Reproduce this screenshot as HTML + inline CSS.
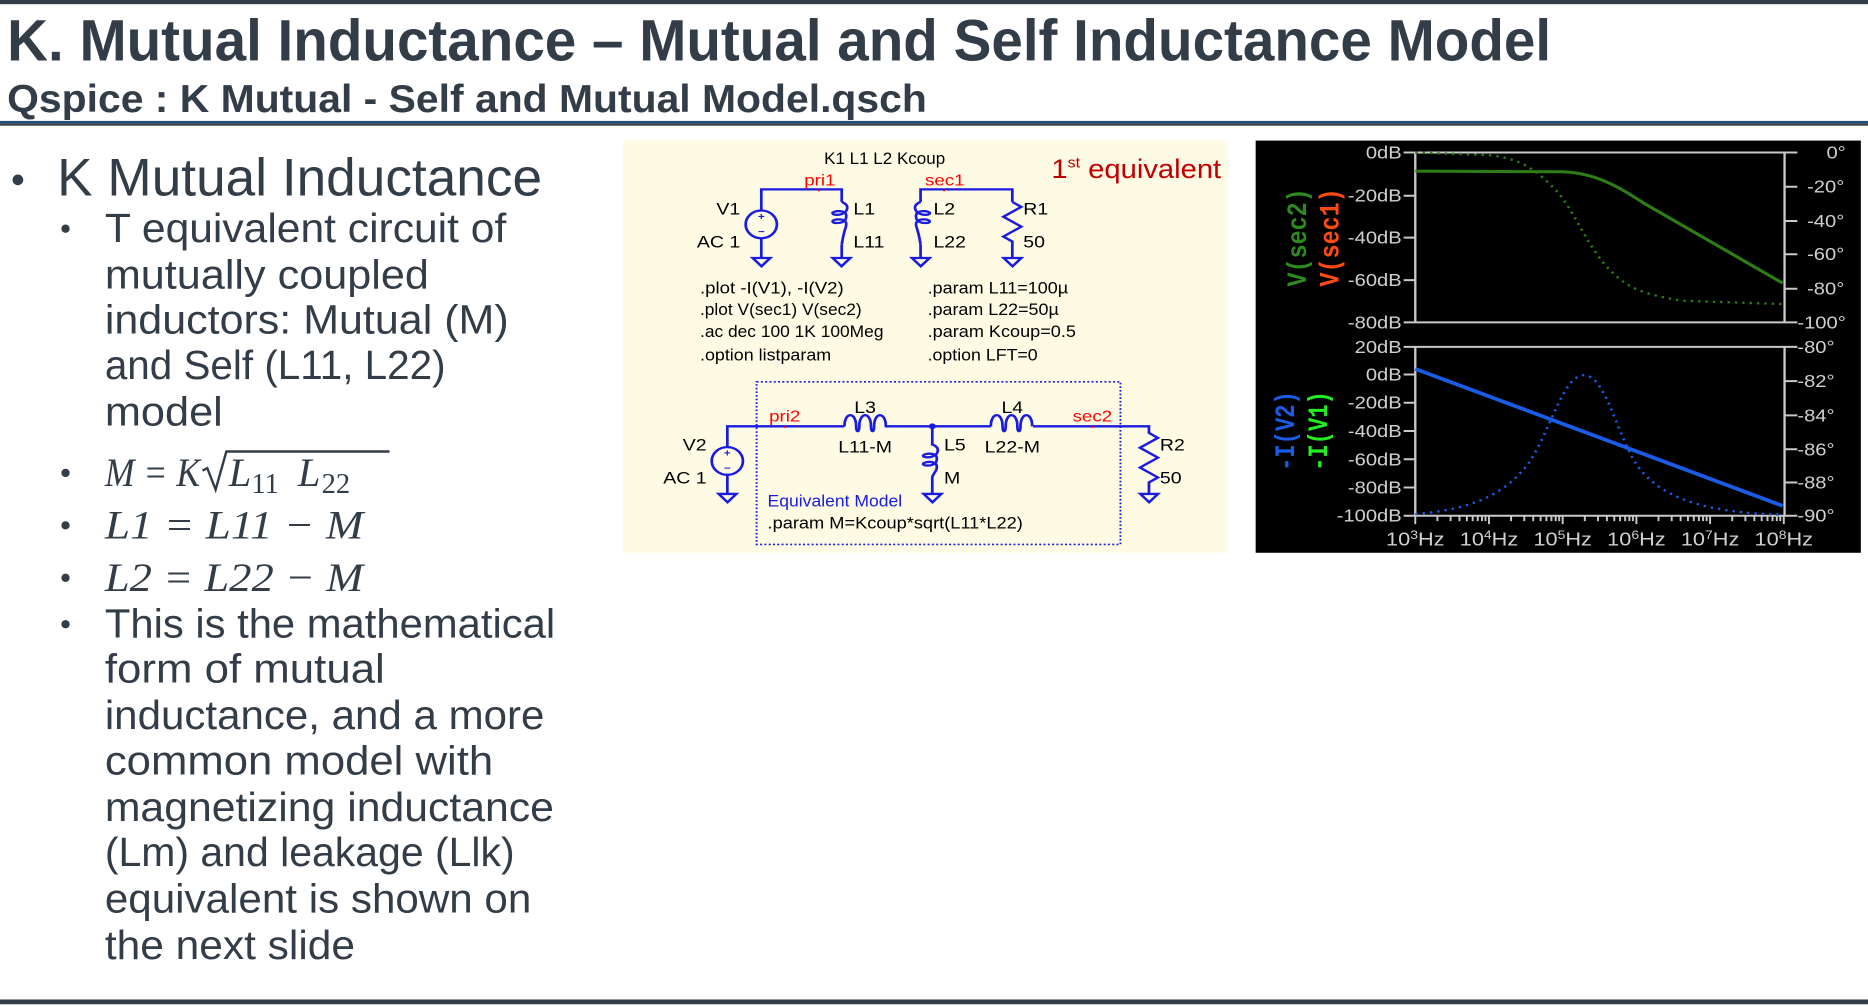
<!DOCTYPE html>
<html><head><meta charset="utf-8"><style>
html,body{margin:0;padding:0;background:#fff;width:1868px;height:1007px;overflow:hidden}
svg{display:block}
</style></head><body>
<svg width="1868" height="1007" viewBox="0 0 1568 845.3" preserveAspectRatio="none" xmlns="http://www.w3.org/2000/svg" font-family="Liberation Sans, sans-serif">
<rect x="0" y="0" width="1568" height="845.3" fill="#fff"/>
<rect x="0" y="0" width="1568" height="3.5" fill="#333d48"/>
<text x="6" y="51" font-size="49" font-weight="bold" fill="#333d48" textLength="1296" lengthAdjust="spacingAndGlyphs">K. Mutual Inductance – Mutual and Self Inductance Model</text>
<text x="6" y="94" font-size="33" font-weight="bold" fill="#333d48" textLength="772" lengthAdjust="spacingAndGlyphs">Qspice : K Mutual - Self and Mutual Model.qsch</text>
<rect x="0" y="101.5" width="1568" height="2" fill="#1f4e79"/>
<rect x="0" y="103.5" width="1568" height="2" fill="#333d48"/>
<rect x="0" y="839" width="1568" height="4" fill="#333d48"/>

<g fill="#333d48">
<circle cx="15" cy="151" r="4.5"/>
<text x="48" y="164" font-size="44" textLength="407" lengthAdjust="spacingAndGlyphs">K Mutual Inductance</text>
<g font-size="34">
<circle cx="55" cy="192" r="3.5"/>
<text x="88" y="203" textLength="337" lengthAdjust="spacingAndGlyphs">T equivalent circuit of</text>
<text x="88" y="242" textLength="272" lengthAdjust="spacingAndGlyphs">mutually coupled</text>
<text x="88" y="280" textLength="339" lengthAdjust="spacingAndGlyphs">inductors: Mutual (M)</text>
<text x="88" y="318" textLength="286" lengthAdjust="spacingAndGlyphs">and Self (L11, L22)</text>
<text x="88" y="357" textLength="99" lengthAdjust="spacingAndGlyphs">model</text>
<circle cx="55" cy="524" r="3.5"/>
<text x="88" y="535" textLength="378" lengthAdjust="spacingAndGlyphs">This is the mathematical</text>
<text x="88" y="573" textLength="235" lengthAdjust="spacingAndGlyphs">form of mutual</text>
<text x="88" y="612" textLength="369" lengthAdjust="spacingAndGlyphs">inductance, and a more</text>
<text x="88" y="650" textLength="326" lengthAdjust="spacingAndGlyphs">common model with</text>
<text x="88" y="689" textLength="377" lengthAdjust="spacingAndGlyphs">magnetizing inductance</text>
<text x="88" y="727" textLength="344" lengthAdjust="spacingAndGlyphs">(Lm) and leakage (Llk)</text>
<text x="88" y="766" textLength="358" lengthAdjust="spacingAndGlyphs">equivalent is shown on</text>
<text x="88" y="805" textLength="210" lengthAdjust="spacingAndGlyphs">the next slide</text>
</g>
<circle cx="55" cy="397" r="3.5"/>
<circle cx="55" cy="441" r="3.5"/>
<circle cx="55" cy="485" r="3.5"/>
<g font-family="Liberation Serif, serif" font-size="34" font-style="italic">
<text x="88" y="408" textLength="80" lengthAdjust="spacingAndGlyphs">M = K</text>
<path d="M170,395 l4,-2 l7,18 l9,-32 h137" fill="none" stroke="#333d48" stroke-width="2"/>
<text x="192" y="408">L</text><text x="211" y="414" font-size="24" font-style="normal">11</text>
<text x="250" y="408">L</text><text x="270" y="414" font-size="24" font-style="normal">22</text>
<text x="88" y="452" textLength="217" lengthAdjust="spacingAndGlyphs">L1 = L11 − M</text>
<text x="88" y="496" textLength="217" lengthAdjust="spacingAndGlyphs">L2 = L22 − M</text>
</g>
</g>

<!-- schematic -->
<rect x="523" y="118" width="507" height="346" fill="#fdfbe3"/>
<g transform="translate(520.4,114.1) scale(0.3277,0.277)">
<g fill="none" stroke="#1a1ae0" stroke-width="7">
<path d="M362,228 V162 H568 V200 M568,330 V370"/>
<ellipse cx="362" cy="268" rx="40" ry="42"/>
<path d="M362,310 V370"/>
<path d="M568,200 q22,10 10,30 q-12,12 -30,8 q-10,-6 8,-10 q30,-2 22,25 q-8,14 -30,10 q-10,-6 8,-10 q30,-2 22,25 q-6,20 -10,52"/>
<path d="M770,200 q-22,10 -10,30 q12,12 30,8 q10,-6 -8,-10 q-30,-2 -22,25 q8,14 30,10 q10,-6 -8,-10 q-30,-2 -22,25 q6,20 10,52"/>
<path d="M770,200 V162 H1005 V200 M770,330 V370"/>
<path d="M1005,200 L1028,215 L982,245 L1028,275 L982,305 L1005,320 V370"/>
<path d="M340,370 h45 l-22.5,25 z M545,370 h45 l-22.5,25 z M748,370 h45 l-22.5,25 z M983,370 h45 l-22.5,25 z"/>
<path d="M275,945 V880 H575 M678,880 H950 M1058,880 H1355 V900 L1378,915 L1332,945 L1378,975 L1332,1005 L1378,1035 L1355,1050 V1085"/>
<ellipse cx="275" cy="985" rx="40" ry="42"/>
<path d="M275,1027 V1085"/>
<path d="M575,880 c0,-45 30,-45 30,0 c0,20 8,20 8,0 c0,-45 30,-45 30,0 c0,20 8,20 8,0 c0,-45 30,-45 30,0"/>
<path d="M950,880 c0,-45 30,-45 30,0 c0,20 8,20 8,0 c0,-45 30,-45 30,0 c0,20 8,20 8,0 c0,-45 30,-45 30,0"/>
<path d="M800,880 V935 q22,10 10,30 q-12,12 -30,8 q-10,-6 8,-10 q30,-2 22,25 q-8,14 -30,10 q-10,-6 8,-10 q30,-2 22,25 q-6,10 -10,20 V1085"/>
<path d="M253,1085 h45 l-22.5,25 z M778,1085 h45 l-22.5,25 z M1333,1085 h45 l-22.5,25 z"/>
</g>
<circle cx="800" cy="880" r="9" fill="#1a1ae0"/>
<g fill="#1a1ae0" font-size="30" font-weight="bold" text-anchor="middle">
<text x="362" y="255">+</text><text x="362" y="300">−</text>
<text x="275" y="972">+</text><text x="275" y="1017">−</text>
</g>
<rect x="350" y="745" width="932" height="493" fill="none" stroke="#1a1ae0" stroke-width="5" stroke-dasharray="5,6"/>
<g font-size="50" fill="#000">
<text x="678" y="85" text-anchor="middle" textLength="310" lengthAdjust="spacingAndGlyphs">K1 L1 L2 Kcoup</text>
<text x="308" y="238" text-anchor="end">V1</text>
<text x="308" y="338" text-anchor="end">AC 1</text>
<text x="598" y="238">L1</text><text x="598" y="338">L11</text>
<text x="803" y="238">L2</text><text x="803" y="338">L22</text>
<text x="1033" y="238">R1</text><text x="1033" y="338">50</text>
<text x="205" y="478" textLength="368" lengthAdjust="spacingAndGlyphs">.plot -I(V1), -I(V2)</text>
<text x="205" y="543" textLength="414" lengthAdjust="spacingAndGlyphs">.plot V(sec1) V(sec2)</text>
<text x="205" y="610" textLength="470" lengthAdjust="spacingAndGlyphs">.ac dec 100 1K 100Meg</text>
<text x="205" y="680" textLength="336" lengthAdjust="spacingAndGlyphs">.option listparam</text>
<text x="788" y="478" textLength="360" lengthAdjust="spacingAndGlyphs">.param L11=100µ</text>
<text x="788" y="543" textLength="336" lengthAdjust="spacingAndGlyphs">.param L22=50µ</text>
<text x="788" y="610" textLength="380" lengthAdjust="spacingAndGlyphs">.param Kcoup=0.5</text>
<text x="788" y="680" textLength="282" lengthAdjust="spacingAndGlyphs">.option LFT=0</text>
<text x="628" y="840" text-anchor="middle">L3</text>
<text x="628" y="960" text-anchor="middle">L11-M</text>
<text x="1005" y="840" text-anchor="middle">L4</text>
<text x="1005" y="960" text-anchor="middle">L22-M</text>
<text x="830" y="953">L5</text><text x="830" y="1053">M</text>
<text x="1383" y="953">R2</text><text x="1383" y="1053">50</text>
<text x="222" y="953" text-anchor="end">V2</text>
<text x="222" y="1053" text-anchor="end">AC 1</text>
<text x="378" y="1190" textLength="654" lengthAdjust="spacingAndGlyphs">.param M=Kcoup*sqrt(L11*L22)</text>
<text x="378" y="1123" fill="#1a1ae0" textLength="345" lengthAdjust="spacingAndGlyphs">Equivalent Model</text>
</g>
<g fill="#ff0000" font-size="48">
<text x="512" y="150" text-anchor="middle">pri1</text>
<text x="832" y="150" text-anchor="middle">sec1</text>
<text x="422" y="865" text-anchor="middle">pri2</text>
<text x="1210" y="865" text-anchor="middle">sec2</text>
</g>
<g fill="#ff0000"><circle cx="510" cy="165" r="3"/><circle cx="830" cy="165" r="3"/><circle cx="422" cy="882" r="3"/><circle cx="1210" cy="882" r="3"/></g>
<text x="1105" y="128" font-size="80" fill="#c00000" textLength="435" lengthAdjust="spacingAndGlyphs">1<tspan font-size="44" dy="-32">st</tspan><tspan dy="32"> equivalent</tspan></text>
</g>

<!-- plot -->
<rect x="1054" y="118" width="508" height="346" fill="#000"/>
<g transform="translate(1054.5,113.5) scale(0.3256,0.279)">
<defs>
<path id="dec" d="M0,1145 v25 M57,1145 v16 M91,1145 v16 M114,1145 v16 M133,1145 v16 M148,1145 v16 M161,1145 v16 M172,1145 v16 M181,1145 v16" stroke="#c8c8c8" stroke-width="5" fill="none"/>
</defs>
<g stroke="#c8c8c8" stroke-width="6" fill="none">
<path d="M380,52 H1395 M410,52 V563 M1362,52 V563 M380,563 H1395"/>
<path d="M380,182 h30 M380,308 h30 M380,436 h30 M1362,155 h33 M1362,258 h33 M1362,358 h33 M1362,462 h33"/>
<path d="M380,637 H1395 M410,637 V1145 M1362,637 V1145 M380,1145 H1395"/>
<path d="M380,720 h30 M380,805 h30 M380,890 h30 M380,975 h30 M380,1060 h30 M1362,740 h33 M1362,843 h33 M1362,945 h33 M1362,1045 h33"/>
</g>
<use href="#dec" x="410"/><use href="#dec" x="600"/><use href="#dec" x="790"/><use href="#dec" x="980"/><use href="#dec" x="1170"/>
<path d="M1360,1145 v25" stroke="#c8c8c8" stroke-width="5"/>
<path d="M410,108 L790,110 C880,114 940,160 1000,205 L1357,445" stroke="#2d7d15" stroke-width="9" fill="none"/>
<path d="M410,52 L600,60 C680,70 720,100 780,175 C830,250 860,350 920,415 C960,460 1000,480 1100,498 L1357,508" stroke="#2d7d15" stroke-width="7" stroke-dasharray="6,13" fill="none"/>
<path d="M410,703 L1357,1115" stroke="#1a5ce6" stroke-width="11"/>
<path d="M410,1140 C560,1125 640,1080 700,990 C760,890 790,722 845,722 C900,722 930,900 980,990 C1040,1090 1150,1135 1357,1142" stroke="#1a5ce6" stroke-width="7" stroke-dasharray="6,13" fill="none"/>
<g fill="#d0d0d0" font-size="52" text-anchor="end">
<text x="375" y="70">0dB</text><text x="375" y="200">-20dB</text><text x="375" y="326">-40dB</text><text x="375" y="454">-60dB</text><text x="375" y="581">-80dB</text>
<text x="375" y="655">20dB</text><text x="375" y="738">0dB</text><text x="375" y="823">-20dB</text><text x="375" y="908">-40dB</text><text x="375" y="993">-60dB</text><text x="375" y="1078">-80dB</text><text x="375" y="1163">-100dB</text>
</g>
<g fill="#d0d0d0" font-size="52">
<text x="1470" y="70">0°</text><text x="1420" y="173">-20°</text><text x="1420" y="276">-40°</text><text x="1420" y="376">-60°</text><text x="1420" y="480">-80°</text><text x="1395" y="581">-100°</text>
<text x="1395" y="655">-80°</text><text x="1395" y="758">-82°</text><text x="1395" y="861">-84°</text><text x="1395" y="963">-86°</text><text x="1395" y="1063">-88°</text><text x="1395" y="1163">-90°</text>
</g>
<g fill="#d0d0d0" font-size="56" text-anchor="middle">
<text x="410" y="1235">10<tspan font-size="36" dy="-20">3</tspan><tspan dy="20">Hz</tspan></text>
<text x="600" y="1235">10<tspan font-size="36" dy="-20">4</tspan><tspan dy="20">Hz</tspan></text>
<text x="790" y="1235">10<tspan font-size="36" dy="-20">5</tspan><tspan dy="20">Hz</tspan></text>
<text x="980" y="1235">10<tspan font-size="36" dy="-20">6</tspan><tspan dy="20">Hz</tspan></text>
<text x="1170" y="1235">10<tspan font-size="36" dy="-20">7</tspan><tspan dy="20">Hz</tspan></text>
<text x="1360" y="1235">10<tspan font-size="36" dy="-20">8</tspan><tspan dy="20">Hz</tspan></text>
</g>
<g font-size="72" font-weight="bold" font-family="Liberation Mono, monospace">
<text transform="translate(128,455) rotate(-90)" fill="#2d8a1e" textLength="295" lengthAdjust="spacingAndGlyphs">V(sec2)</text>
<text transform="translate(212,455) rotate(-90)" fill="#ff4a10" textLength="295" lengthAdjust="spacingAndGlyphs">V(sec1)</text>
<text transform="translate(97,1010) rotate(-90)" fill="#1a5ce6" textLength="240" lengthAdjust="spacingAndGlyphs">-I(V2)</text>
<text transform="translate(182,1010) rotate(-90)" fill="#22ee22" textLength="240" lengthAdjust="spacingAndGlyphs">-I(V1)</text>
</g>
</g>
</svg>
</body></html>
